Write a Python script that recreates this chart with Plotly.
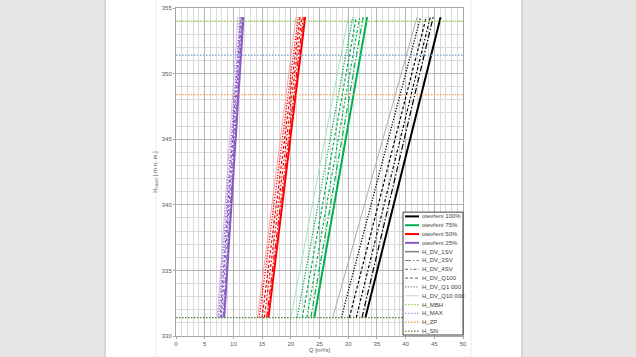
import plotly.graph_objects as go

# ---------------- data ----------------
h_curve = [331.4, 354.3]  # reservoir level range of the discharge curves [m n. m.]

openings = ["otevření 100%", "otevření 75%", "otevření 50%", "otevření 25%"]
opening_colors = ["#000000", "#00B050", "#FF0000", "#8A5CC4"]
opening_light = ["#A6A6A6", "#9FE0BC", "#FF9B9B", "#C9B3E6"]

tailwater = ["H_DV_1SV", "H_DV_3SV", "H_DV_4SV", "H_DV_Q100", "H_DV_Q1 000", "H_DV_Q10 000"]

# discharge Q [m3/s] at bottom / top of curve, ordered like `tailwater`
q100_bottom = [33.0, 32.4, 31.4, 30.2, 28.8, 27.3]
q100_top = [46.1, 44.8, 44.3, 43.6, 42.6, 42.0]
q75_bottom = [24.1, 23.5, 22.8, 22.0, 21.1, 20.0]
q75_top = [33.3, 32.6, 32.0, 31.4, 30.8, 30.0]
q50_bottom = [16.1, 15.8, 15.4, 15.0, 14.5, 14.2]
q50_top = [22.5, 22.2, 21.9, 21.6, 21.3, 20.9]
q25_bottom = [8.4, 8.2, 7.9, 7.7, 7.4, 7.2]
q25_top = [11.75, 11.6, 11.45, 11.3, 11.15, 10.8]

levels = ["H_MBH", "H_MAX", "H_ZP", "H_SN"]
level_values = [354.0, 351.4, 348.4, 331.4]
level_colors = ["#92D050", "#8FAADC", "#F5A05A", "#548235"]
q_span = [0, 50]

x_ticks = [0, 5, 10, 15, 20, 25, 30, 35, 40, 45, 50]
y_ticks = [330, 335, 340, 345, 350, 355]

# ---------------- styles ----------------
tw_dash = ["solid", "6px,2px,1.5px,2px", "3px,2px,1.5px,2px", "3px,2px", "1.2px,1.6px", "solid"]
tw_width = [2.0, 1.2, 1.2, 1.2, 1.3, 0.9]
tw_legend_color = ["#808080", "#808080", "#808080", "#808080", "#808080", "#C8C8C8"]
level_dash = "1.5px,1.5px"

W, H = 636, 357
L, R, T, B = 176, 463, 5, 336


def px_x(p):
    return (p - L) / (R - L)


def px_y(p):
    return (B - p) / (B - T)


fig = go.Figure()

groups = [(q100_bottom, q100_top), (q75_bottom, q75_top), (q50_bottom, q50_top), (q25_bottom, q25_top)]
for gi, (qb, qt) in enumerate(groups):
    for ti in range(len(tailwater)):
        col = opening_light[gi] if ti == 5 else opening_colors[gi]
        fig.add_trace(go.Scatter(
            x=[qb[ti], qt[ti]], y=h_curve, mode="lines",
            line=dict(color=col, width=tw_width[ti], dash=tw_dash[ti]),
            name=f"{openings[gi]} {tailwater[ti]}", showlegend=False, hoverinfo="skip"))

for name, val, col in zip(levels, level_values, level_colors):
    fig.add_trace(go.Scatter(
        x=q_span, y=[val, val], mode="lines",
        line=dict(color=col, width=1.3, dash=level_dash),
        name=name, showlegend=False, hoverinfo="skip"))

# ---------------- page / legend decorations ----------------
shapes = []
shapes.append(dict(type="rect", xref="paper", yref="paper", layer="below",
                   x0=px_x(104), x1=px_x(523), y0=px_y(H + 5), y1=px_y(-5),
                   fillcolor="#D6D6D6", line=dict(width=0)))
shapes.append(dict(type="rect", xref="paper", yref="paper", layer="below",
                   x0=px_x(106), x1=px_x(521), y0=px_y(H + 5), y1=px_y(-5),
                   fillcolor="#FFFFFF", line=dict(width=0)))
for xp in (156, 471):
    shapes.append(dict(type="line", xref="paper", yref="paper", layer="below",
                       x0=px_x(xp), x1=px_x(xp), y0=px_y(H + 5), y1=px_y(-5),
                       line=dict(color="#EBEBEB", width=1)))

# legend box
shapes.append(dict(type="rect", xref="paper", yref="paper",
                   x0=px_x(403), x1=px_x(463), y0=px_y(335), y1=px_y(211),
                   fillcolor="#FFFFFF", line=dict(color="#404040", width=1)))

legend_names = openings + tailwater + levels
legend_colors = opening_colors + tw_legend_color + level_colors
legend_dash = ["solid"] * 4 + tw_dash + [level_dash] * 4
legend_width = [2.0] * 4 + [1.5, 1.2, 1.2, 1.2, 1.3, 0.9] + [1.3] * 4

annotations = []
for i, (nm, c, d, w) in enumerate(zip(legend_names, legend_colors, legend_dash, legend_width)):
    yc = 215.3 + i * 8.9
    shapes.append(dict(type="line", xref="paper", yref="paper",
                       x0=px_x(405), x1=px_x(419), y0=px_y(yc), y1=px_y(yc),
                       line=dict(color=c, width=w, dash=d)))
    annotations.append(dict(xref="paper", yref="paper", x=px_x(420), y=px_y(yc),
                            xanchor="left", yanchor="middle", text=nm, showarrow=False,
                            font=dict(size=6, color="#404040", family="Liberation Sans")))

axis_font = dict(size=6, color="#595959", family="Liberation Sans")

fig.update_layout(
    width=W, height=H,
    margin=dict(l=L, r=W - R, t=T, b=H - B, pad=0),
    paper_bgcolor="#E6E6E6", plot_bgcolor="#FFFFFF",
    showlegend=False,
    shapes=shapes, annotations=annotations,
    font=axis_font,
    xaxis=dict(range=q_span, tickmode="array", tickvals=x_ticks, ticktext=[str(v) for v in x_ticks],
               showgrid=True, gridcolor="#B4B4B4", gridwidth=1,
               minor=dict(dtick=1, showgrid=True, gridcolor="#D9D9D9", gridwidth=1),
               showline=True, linecolor="#A6A6A6", mirror=True,
               ticks="outside", ticklen=2, tickcolor="#A6A6A6",
               zeroline=False, tickfont=axis_font,
               title=dict(text="Q [m³/s]", font=axis_font, standoff=1)),
    yaxis=dict(range=[330, 355], tickmode="array", tickvals=y_ticks, ticktext=[str(v) for v in y_ticks],
               showgrid=True, gridcolor="#B4B4B4", gridwidth=1,
               minor=dict(dtick=1, showgrid=True, gridcolor="#D9D9D9", gridwidth=1),
               showline=True, linecolor="#A6A6A6", mirror=True,
               ticks="outside", ticklen=2, tickcolor="#A6A6A6",
               zeroline=False, tickfont=axis_font,
               title=dict(text="H<sub>nádrž</sub> [ m n. m.]", font=axis_font, standoff=3)),
)

fig.write_html(
    "out.html",
    config={"displayModeBar": False},
    post_script="document.body.style.margin='0';document.body.style.overflow='hidden';",
)
